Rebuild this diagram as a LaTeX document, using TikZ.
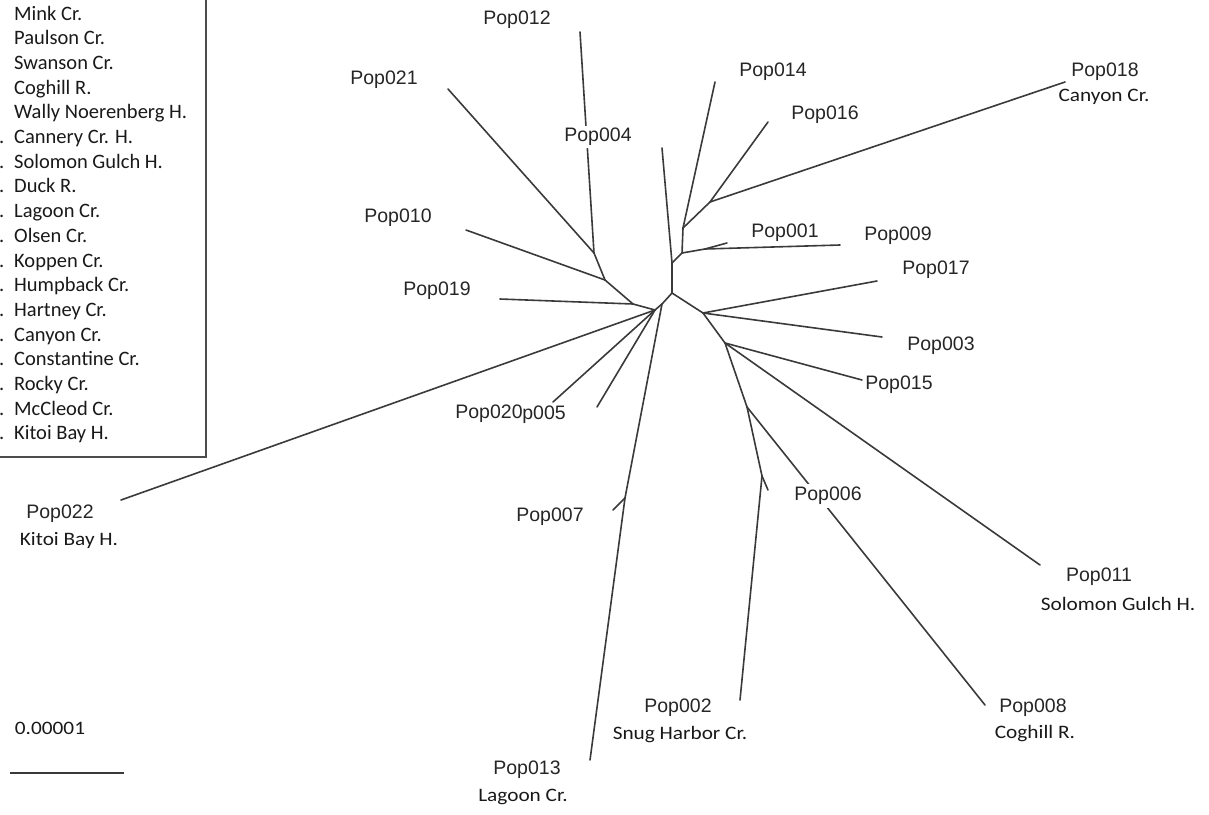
\documentclass[tikz,border=0pt]{standalone}
\usepackage{fontspec}
\setmainfont{Liberation Sans}
\newfontfamily\calib[FakeStretch=1.12]{Carlito}
\newfontfamily\calibleg{Carlito}
\definecolor{ln}{HTML}{3A3A3A}
\begin{document}
\begin{tikzpicture}[x=1pt,y=-1pt,
  br/.style={draw=ln,line width=1.6pt,line cap=round},
  pop/.style={inner sep=0pt,text=black!85,font=\fontsize{19.5}{22}\selectfont},
  nm/.style={inner sep=0pt,text=black!90,font=\calib\fontsize{19}{22}\selectfont},
  lg/.style={inner sep=0pt,anchor=base west,text=black!90,font=\calibleg\fontsize{20.5}{24}\selectfont}]
\useasboundingbox (0,0) rectangle (1209,814);
% legend box
\draw[draw=black!70,line width=1.3pt] (-6,-6) rectangle (206,457);
\foreach \t [count=\i] in {Mink Cr.,Paulson Cr.,Swanson Cr.,Coghill R.,Wally Noerenberg H.,Cannery Cr. H.,Solomon Gulch H.,Duck R.,Lagoon Cr.,Olsen Cr.,Koppen Cr.,Humpback Cr.,Hartney Cr.,Canyon Cr.,Constantine Cr.,Rocky Cr.,McCleod Cr.,Kitoi Bay H.}{
  \node[lg] (leg\i) at (14,{20+24.7*(\i-1)}) {\t};
}
\foreach \i in {6,...,18}{
  \node[lg] (dot\i) at (-1,{20+24.7*(\i-1)}) {.};
}
% internal nodes
\coordinate (F) at (594,253);
\coordinate (E) at (605,280);
\coordinate (D) at (633,304);
\coordinate (C) at (655,310);
\coordinate (G) at (662,304);
\coordinate (J) at (625,498);
\coordinate (A) at (672,293);
\coordinate (B) at (672,263);
\coordinate (L) at (682,253);
\coordinate (M) at (683,228);
\coordinate (P) at (710,202);
\coordinate (N) at (705,249);
\coordinate (K) at (703,313);
\coordinate (Q) at (725,343);
\coordinate (R) at (747,407);
\coordinate (H) at (762,476);
% tips
\coordinate (t012) at (580,32);
\coordinate (t021) at (448,89);
\coordinate (t010) at (466,230);
\coordinate (t019) at (500,299);
\coordinate (t022) at (121,500);
\coordinate (t020) at (553,402);
\coordinate (t005) at (597,407);
\coordinate (t013) at (590,760);
\coordinate (t007) at (613,510);
\coordinate (t004) at (662,148);
\coordinate (t014) at (715,82);
\coordinate (t016) at (768,122);
\coordinate (t018) at (1065,82);
\coordinate (t001) at (727,243);
\coordinate (t009) at (840,245);
\coordinate (t017) at (877,281);
\coordinate (t003) at (882,337);
\coordinate (t015) at (862,380);
\coordinate (t011) at (1040,565);
\coordinate (t008) at (985,705);
\coordinate (t002) at (740,700);
\coordinate (tsh) at (768,490);
% branches
\draw[br] (t012) -- (F);
\draw[br] (t021) -- (F);
\draw[br] (F) -- (E);
\draw[br] (t010) -- (E);
\draw[br] (E) -- (D);
\draw[br] (t019) -- (D);
\draw[br] (D) -- (C);
\draw[br] (t022) -- (C);
\draw[br] (t020) -- (C);
\draw[br] (t005) -- (C);
\draw[br] (C) -- (G);
\draw[br] (G) -- (J);
\draw[br] (J) -- (t013);
\draw[br] (J) -- (t007);
\draw[br] (G) -- (A);
\draw[br] (A) -- (B);
\draw[br] (B) -- (t004);
\draw[br] (B) -- (L);
\draw[br] (L) -- (M);
\draw[br] (M) -- (t014);
\draw[br] (M) -- (P);
\draw[br] (P) -- (t016);
\draw[br] (P) -- (t018);
\draw[br] (L) -- (N);
\draw[br] (N) -- (t001);
\draw[br] (N) -- (t009);
\draw[br] (A) -- (K);
\draw[br] (K) -- (t017);
\draw[br] (K) -- (t003);
\draw[br] (K) -- (Q);
\draw[br] (Q) -- (t015);
\draw[br] (Q) -- (t011);
\draw[br] (Q) -- (R);
\draw[br] (R) -- (t008);
\draw[br] (R) -- (H);
\draw[br] (H) -- (tsh);
\draw[br] (H) -- (t002);
% labels
\node[pop] (l012) at (517,20) {Pop012};
\node[pop] (l021) at (384,80) {Pop021};
\node[pop,fill=white,inner sep=2pt] (l004) at (598,137) {Pop004};
\node[pop] (l014) at (773,72) {Pop014};
\node[pop] (l016) at (825,115) {Pop016};
\node[pop] (l018) at (1105,72) {Pop018};
\node[nm] (n018) at (1104,97) {Canyon Cr.};
\node[pop] (l010) at (398,218) {Pop010};
\node[pop] (l001) at (785,233) {Pop001};
\node[pop] (l009) at (898,236) {Pop009};
\node[pop] (l017) at (936,270) {Pop017};
\node[pop] (l019) at (437,291) {Pop019};
\node[pop] (l003) at (941,346) {Pop003};
\node[pop] (l015) at (899,385) {Pop015};
\node[pop] (l020) at (489,414) {Pop020};
\node[pop] (l005) at (544,415) {p005};
\node[pop,fill=white,inner sep=3pt] (l006) at (828,496) {Pop006};
\node[pop] (l007) at (550,517) {Pop007};
\node[pop] (l022) at (60,514) {Pop022};
\node[nm] (n022) at (69,540) {Kitoi Bay H.};
\node[pop] (l011) at (1099,577) {Pop011};
\node[nm] (n011) at (1118,604) {Solomon Gulch H.};
\node[pop] (l002) at (678,708) {Pop002};
\node[nm] (n002) at (680,735) {Snug Harbor Cr.};
\node[pop] (l008) at (1033,708) {Pop008};
\node[nm] (n008) at (1035,734) {Coghill R.};
\node[pop] (l013) at (527,770) {Pop013};
\node[nm] (n013) at (523,797) {Lagoon Cr.};
% scale bar
\node[nm] (sc) at (50,728) {0.00001};
\coordinate (sa) at (10,773);
\coordinate (sb) at (124,773);
\draw[draw=ln,line width=1.3pt] (sa) -- (sb);
\end{tikzpicture}
\end{document}
